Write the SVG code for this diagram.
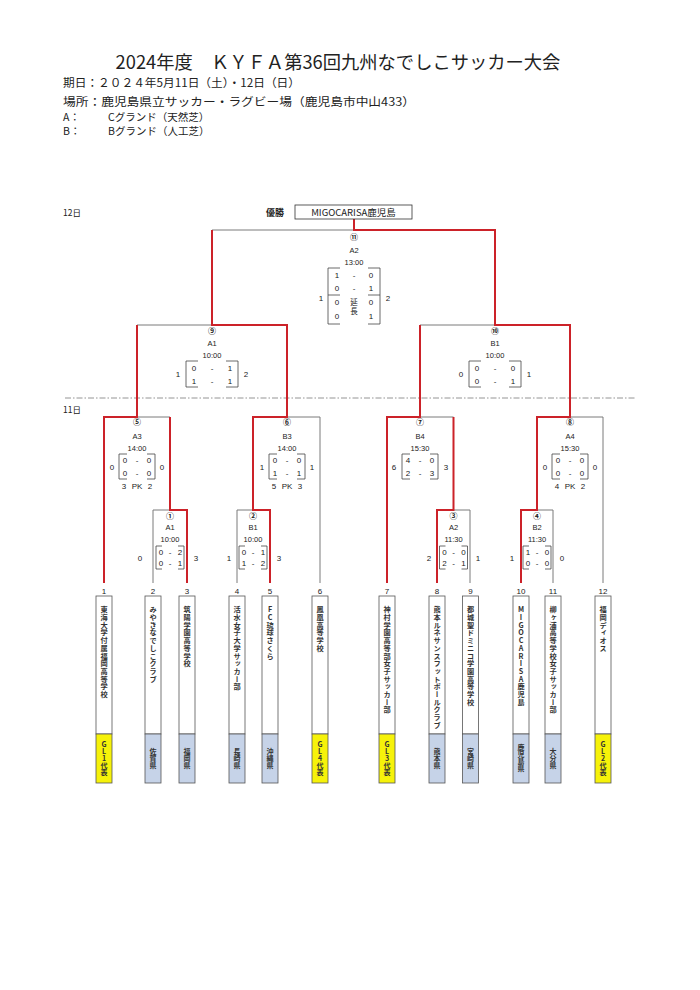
<svg xmlns="http://www.w3.org/2000/svg" width="700" height="990" viewBox="0 0 700 990">
<style>
.g{stroke:#7a7a7a;stroke-width:1;fill:none}
.r{stroke:#cc2229;stroke-width:2;fill:none}
.bk{stroke:#444;stroke-width:0.8;fill:none}
.t{font-family:"Liberation Sans","Noto Sans CJK JP",sans-serif;font-size:7.5px;fill:#222;text-anchor:middle}
.c{font-family:"Noto Sans CJK JP",sans-serif;font-size:8px;font-weight:bold;fill:#222;text-anchor:middle}
.s{font-family:"Liberation Sans","Noto Sans CJK JP",sans-serif;font-size:8px;fill:#222;text-anchor:middle}
.h{font-family:"Noto Sans CJK JP","Liberation Sans",sans-serif;fill:#222}
.nm{font-family:"Noto Sans CJK JP",sans-serif;font-size:7.2px;font-weight:bold;fill:#333;writing-mode:vertical-rl;text-orientation:upright;letter-spacing:0.5px}
.rg{font-family:"Noto Sans CJK JP",sans-serif;font-size:7px;font-weight:bold;fill:#333;writing-mode:vertical-rl;text-orientation:upright;text-anchor:middle}
.box{fill:#fff;stroke:#555;stroke-width:0.8}
.yl{fill:#f6f20a;stroke:#555;stroke-width:0.8}
.bl{fill:#c6d3e8;stroke:#555;stroke-width:0.8}
</style>
<rect width="700" height="990" fill="#fff"/>
<g id="header">
<text class="h" x="338" y="69" font-size="18.3" text-anchor="middle">2024年度　ＫＹＦＡ第36回九州なでしこサッカー大会</text>
<text class="h" x="63" y="87" font-size="11.5" textLength="237" lengthAdjust="spacingAndGlyphs">期日：２０２４年5月11日（土）・12日（日）</text>
<text class="h" x="63" y="106" font-size="11.5" textLength="352" lengthAdjust="spacingAndGlyphs">場所：鹿児島県立サッカー・ラグビー場（鹿児島市中山433）</text>
<text class="h" x="63" y="121" font-size="10.5">A：</text>
<text class="h" x="108" y="121" font-size="10.5">Cグランド（天然芝）</text>
<text class="h" x="63" y="135" font-size="10.5">B：</text>
<text class="h" x="108" y="135" font-size="10.5">Bグランド（人工芝）</text>
<text class="h" x="63" y="216" font-size="8.5">12日</text>
<text class="h" x="63" y="413" font-size="8.5">11日</text>
</g>
<line x1="65" y1="398" x2="636" y2="398" stroke="#888" stroke-width="0.9" stroke-dasharray="6 2 1.5 2"/>
<g id="connectors">
<path class="g" d="M153,583V510H170 M237,583V510H253 M320,583V417H287 M453.5,510H470V583 M420,417H453.5 M537,510H553V583 M570,417H603V583 M137,325H212 M420,325H495 M212,230H354 M137,417H170"/>
<path class="r" d="M104,583V417H137V325"/>
<path class="r" d="M187,583V510H170V417"/>
<path class="r" d="M270,583V510H253V417H287V325H212V230"/>
<path class="r" d="M387,583V417H420V325"/>
<path class="r" d="M437,583V510H453.5V417"/>
<path class="r" d="M521,583V510H537V417H570V325H495V230H354V219"/>
</g>
<g id="winner">
<text class="h" x="275" y="216" font-size="9" font-weight="bold" text-anchor="middle">優勝</text>
<rect x="295" y="205" width="117" height="14" fill="#fff" stroke="#333" stroke-width="0.8"/>
<text class="h" x="353.5" y="216" font-size="9.5" text-anchor="middle">MIGOCARISA鹿児島</text>
</g>
<g id="final">
<text class="c" x="354" y="240">⑪</text>
<text class="t" x="354" y="253">A2</text>
<text class="t" x="354" y="265">13:00</text>
<path class="bk" d="M340,268H328V324H340 M328,295H340 M368,268H380V324H368 M368,295H380"/>
<text class="s" x="337" y="278">1</text><text class="s" x="354" y="278">-</text><text class="s" x="371" y="278">0</text>
<text class="s" x="337" y="291">0</text><text class="s" x="354" y="291">-</text><text class="s" x="371" y="291">1</text>
<text class="s" x="337" y="305">0</text><text class="s" x="371" y="305">0</text>
<text class="s" x="337" y="319">0</text><text class="s" x="371" y="319">1</text>
<text class="t" x="354" y="305" font-size="6.5">延</text>
<text class="t" x="354" y="314" font-size="6.5">長</text>
<text class="s" x="321" y="301">1</text><text class="s" x="388" y="301">2</text>
</g>
<g id="sf9">
<text class="c" x="212" y="334">⑨</text>
<text class="t" x="212" y="346">A1</text>
<text class="t" x="212" y="358">10:00</text>
<path class="bk" d="M198,361H186V387H198 M226,361H238V387H226"/>
<text class="s" x="194" y="371">0</text><text class="s" x="212" y="371">-</text><text class="s" x="230" y="371">1</text>
<text class="s" x="194" y="384">1</text><text class="s" x="212" y="384">-</text><text class="s" x="230" y="384">1</text>
<text class="s" x="178" y="377">1</text><text class="s" x="246" y="377">2</text>
</g>
<g id="sf10">
<text class="c" x="495" y="334">⑩</text>
<text class="t" x="495" y="346">B1</text>
<text class="t" x="495" y="358">10:00</text>
<path class="bk" d="M481,361H469V387H481 M509,361H521V387H509"/>
<text class="s" x="477" y="371">0</text><text class="s" x="495" y="371">-</text><text class="s" x="513" y="371">0</text>
<text class="s" x="477" y="384">0</text><text class="s" x="495" y="384">-</text><text class="s" x="513" y="384">1</text>
<text class="s" x="461" y="377">0</text><text class="s" x="529" y="377">1</text>
</g>
<g id="qf5">
<text class="c" x="137" y="425">⑤</text>
<text class="t" x="137" y="439">A3</text>
<text class="t" x="137" y="451">14:00</text>
<path class="bk" d="M127,454H119V479H127 M147,454H155V479H147"/>
<text class="s" x="125" y="463">0</text><text class="s" x="137" y="463">-</text><text class="s" x="149" y="463">0</text>
<text class="s" x="125" y="476">0</text><text class="s" x="137" y="476">-</text><text class="s" x="149" y="476">0</text>
<text class="s" x="112" y="470">0</text><text class="s" x="162" y="470">0</text>
<text class="s" x="124" y="489">3</text><text class="s" x="137" y="489">PK</text><text class="s" x="150" y="489">2</text>
</g>
<g id="qf6">
<text class="c" x="287" y="425">⑥</text>
<text class="t" x="287" y="439">B3</text>
<text class="t" x="287" y="451">14:00</text>
<path class="bk" d="M277,454H269V479H277 M297,454H305V479H297"/>
<text class="s" x="275" y="463">0</text><text class="s" x="287" y="463">-</text><text class="s" x="299" y="463">0</text>
<text class="s" x="275" y="476">1</text><text class="s" x="287" y="476">-</text><text class="s" x="299" y="476">1</text>
<text class="s" x="262" y="470">1</text><text class="s" x="312" y="470">1</text>
<text class="s" x="274" y="489">5</text><text class="s" x="287" y="489">PK</text><text class="s" x="300" y="489">3</text>
</g>
<g id="qf7">
<text class="c" x="420" y="425">⑦</text>
<text class="t" x="420" y="439">B4</text>
<text class="t" x="420" y="451">15:30</text>
<path class="bk" d="M410,454H402V479H410 M430,454H438V479H430"/>
<text class="s" x="408" y="463">4</text><text class="s" x="420" y="463">-</text><text class="s" x="432" y="463">0</text>
<text class="s" x="408" y="476">2</text><text class="s" x="420" y="476">-</text><text class="s" x="432" y="476">3</text>
<text class="s" x="394" y="470">6</text><text class="s" x="446" y="470">3</text>
</g>
<g id="qf8">
<text class="c" x="570" y="425">⑧</text>
<text class="t" x="570" y="439">A4</text>
<text class="t" x="570" y="451">15:30</text>
<path class="bk" d="M560,454H552V479H560 M580,454H588V479H580"/>
<text class="s" x="558" y="463">0</text><text class="s" x="570" y="463">-</text><text class="s" x="582" y="463">0</text>
<text class="s" x="558" y="476">0</text><text class="s" x="570" y="476">-</text><text class="s" x="582" y="476">0</text>
<text class="s" x="545" y="470">0</text><text class="s" x="595" y="470">0</text>
<text class="s" x="557" y="489">4</text><text class="s" x="570" y="489">PK</text><text class="s" x="583" y="489">2</text>
</g>
<g id="m1">
<text class="c" x="170" y="519">①</text>
<text class="t" x="170" y="530">A1</text>
<text class="t" x="170" y="542">10:00</text>
<path class="bk" d="M162,546H156V569H162 M178,546H184V569H178"/>
<text class="s" x="161" y="555">0</text><text class="s" x="170" y="555">-</text><text class="s" x="180" y="555">2</text>
<text class="s" x="161" y="566">0</text><text class="s" x="170" y="566">-</text><text class="s" x="180" y="566">1</text>
<text class="s" x="140" y="561">0</text><text class="s" x="196" y="561">3</text>
</g>
<g id="m2">
<text class="c" x="253" y="519">②</text>
<text class="t" x="253" y="530">B1</text>
<text class="t" x="253" y="542">10:00</text>
<path class="bk" d="M245,546H239V569H245 M261,546H267V569H261"/>
<text class="s" x="244" y="555">0</text><text class="s" x="253" y="555">-</text><text class="s" x="263" y="555">1</text>
<text class="s" x="244" y="566">1</text><text class="s" x="253" y="566">-</text><text class="s" x="263" y="566">2</text>
<text class="s" x="229" y="561">1</text><text class="s" x="279" y="561">3</text>
</g>
<g id="m3">
<text class="c" x="453.5" y="519">③</text>
<text class="t" x="453.5" y="530">A2</text>
<text class="t" x="453.5" y="542">11:30</text>
<path class="bk" d="M445.5,546H439.5V569H445.5 M461.5,546H467.5V569H461.5"/>
<text class="s" x="444.5" y="555">0</text><text class="s" x="453.5" y="555">-</text><text class="s" x="463.5" y="555">0</text>
<text class="s" x="444.5" y="566">2</text><text class="s" x="453.5" y="566">-</text><text class="s" x="463.5" y="566">1</text>
<text class="s" x="429" y="561">2</text><text class="s" x="478" y="561">1</text>
</g>
<g id="m4">
<text class="c" x="537" y="519">④</text>
<text class="t" x="537" y="530">B2</text>
<text class="t" x="537" y="542">11:30</text>
<path class="bk" d="M529,546H523V569H529 M545,546H551V569H545"/>
<text class="s" x="528" y="555">1</text><text class="s" x="537" y="555">-</text><text class="s" x="547" y="555">0</text>
<text class="s" x="528" y="566">0</text><text class="s" x="537" y="566">-</text><text class="s" x="547" y="566">0</text>
<text class="s" x="512" y="561">1</text><text class="s" x="562" y="561">0</text>
</g>
<g id="team1"><text class="s" x="104" y="594">1</text><rect class="box" x="96" y="596" width="16" height="138"/><rect class="yl" x="96" y="734" width="16" height="49"/><text class="nm" x="104" y="606">東海大学付属福岡高等学校</text><text class="rg" x="104" y="758">GL1代表</text></g>
<g id="team2"><text class="s" x="153" y="594">2</text><rect class="box" x="145" y="596" width="16" height="138"/><rect class="bl" x="145" y="734" width="16" height="49"/><text class="nm" x="153" y="606">みやきなでしこクラブ</text><text class="rg" x="153" y="758">佐賀県</text></g>
<g id="team3"><text class="s" x="187" y="594">3</text><rect class="box" x="179" y="596" width="16" height="138"/><rect class="bl" x="179" y="734" width="16" height="49"/><text class="nm" x="187" y="606">筑陽学園高等学校</text><text class="rg" x="187" y="758">福岡県</text></g>
<g id="team4"><text class="s" x="237" y="594">4</text><rect class="box" x="229" y="596" width="16" height="138"/><rect class="bl" x="229" y="734" width="16" height="49"/><text class="nm" x="237" y="606">活水女子大学サッカー部</text><text class="rg" x="237" y="758">長崎県</text></g>
<g id="team5"><text class="s" x="270" y="594">5</text><rect class="box" x="262" y="596" width="16" height="138"/><rect class="bl" x="262" y="734" width="16" height="49"/><text class="nm" x="270" y="606">FC琉球さくら</text><text class="rg" x="270" y="758">沖縄県</text></g>
<g id="team6"><text class="s" x="320" y="594">6</text><rect class="box" x="312" y="596" width="16" height="138"/><rect class="yl" x="312" y="734" width="16" height="49"/><text class="nm" x="320" y="606">鳳凰高等学校</text><text class="rg" x="320" y="758">GL4代表</text></g>
<g id="team7"><text class="s" x="387" y="594">7</text><rect class="box" x="379" y="596" width="16" height="138"/><rect class="yl" x="379" y="734" width="16" height="49"/><text class="nm" x="387" y="606">神村学園高等部女子サッカー部</text><text class="rg" x="387" y="758">GL3代表</text></g>
<g id="team8"><text class="s" x="437" y="594">8</text><rect class="box" x="429" y="596" width="16" height="138"/><rect class="bl" x="429" y="734" width="16" height="49"/><text class="nm" x="437" y="606">熊本ルネサンスフットボールクラブ</text><text class="rg" x="437" y="758">熊本県</text></g>
<g id="team9"><text class="s" x="470.5" y="594">9</text><rect class="box" x="462.5" y="596" width="16" height="138"/><rect class="bl" x="462.5" y="734" width="16" height="49"/><text class="nm" x="470.5" y="606">都城聖ドミニコ学園高等学校</text><text class="rg" x="470.5" y="758">宮崎県</text></g>
<g id="team10"><text class="s" x="521" y="594">10</text><rect class="box" x="513" y="596" width="16" height="138"/><rect class="bl" x="513" y="734" width="16" height="49"/><text class="nm" x="521" y="606">MIGOCARISA鹿児島</text><text class="rg" x="521" y="758">鹿児島県</text></g>
<g id="team11"><text class="s" x="553" y="594">11</text><rect class="box" x="545" y="596" width="16" height="138"/><rect class="bl" x="545" y="734" width="16" height="49"/><text class="nm" x="553" y="606">柳ヶ浦高等学校女子サッカー部</text><text class="rg" x="553" y="758">大分県</text></g>
<g id="team12"><text class="s" x="603" y="594">12</text><rect class="box" x="595" y="596" width="16" height="138"/><rect class="yl" x="595" y="734" width="16" height="49"/><text class="nm" x="603" y="606">福岡ディオス</text><text class="rg" x="603" y="758">GL2代表</text></g>
</svg>
